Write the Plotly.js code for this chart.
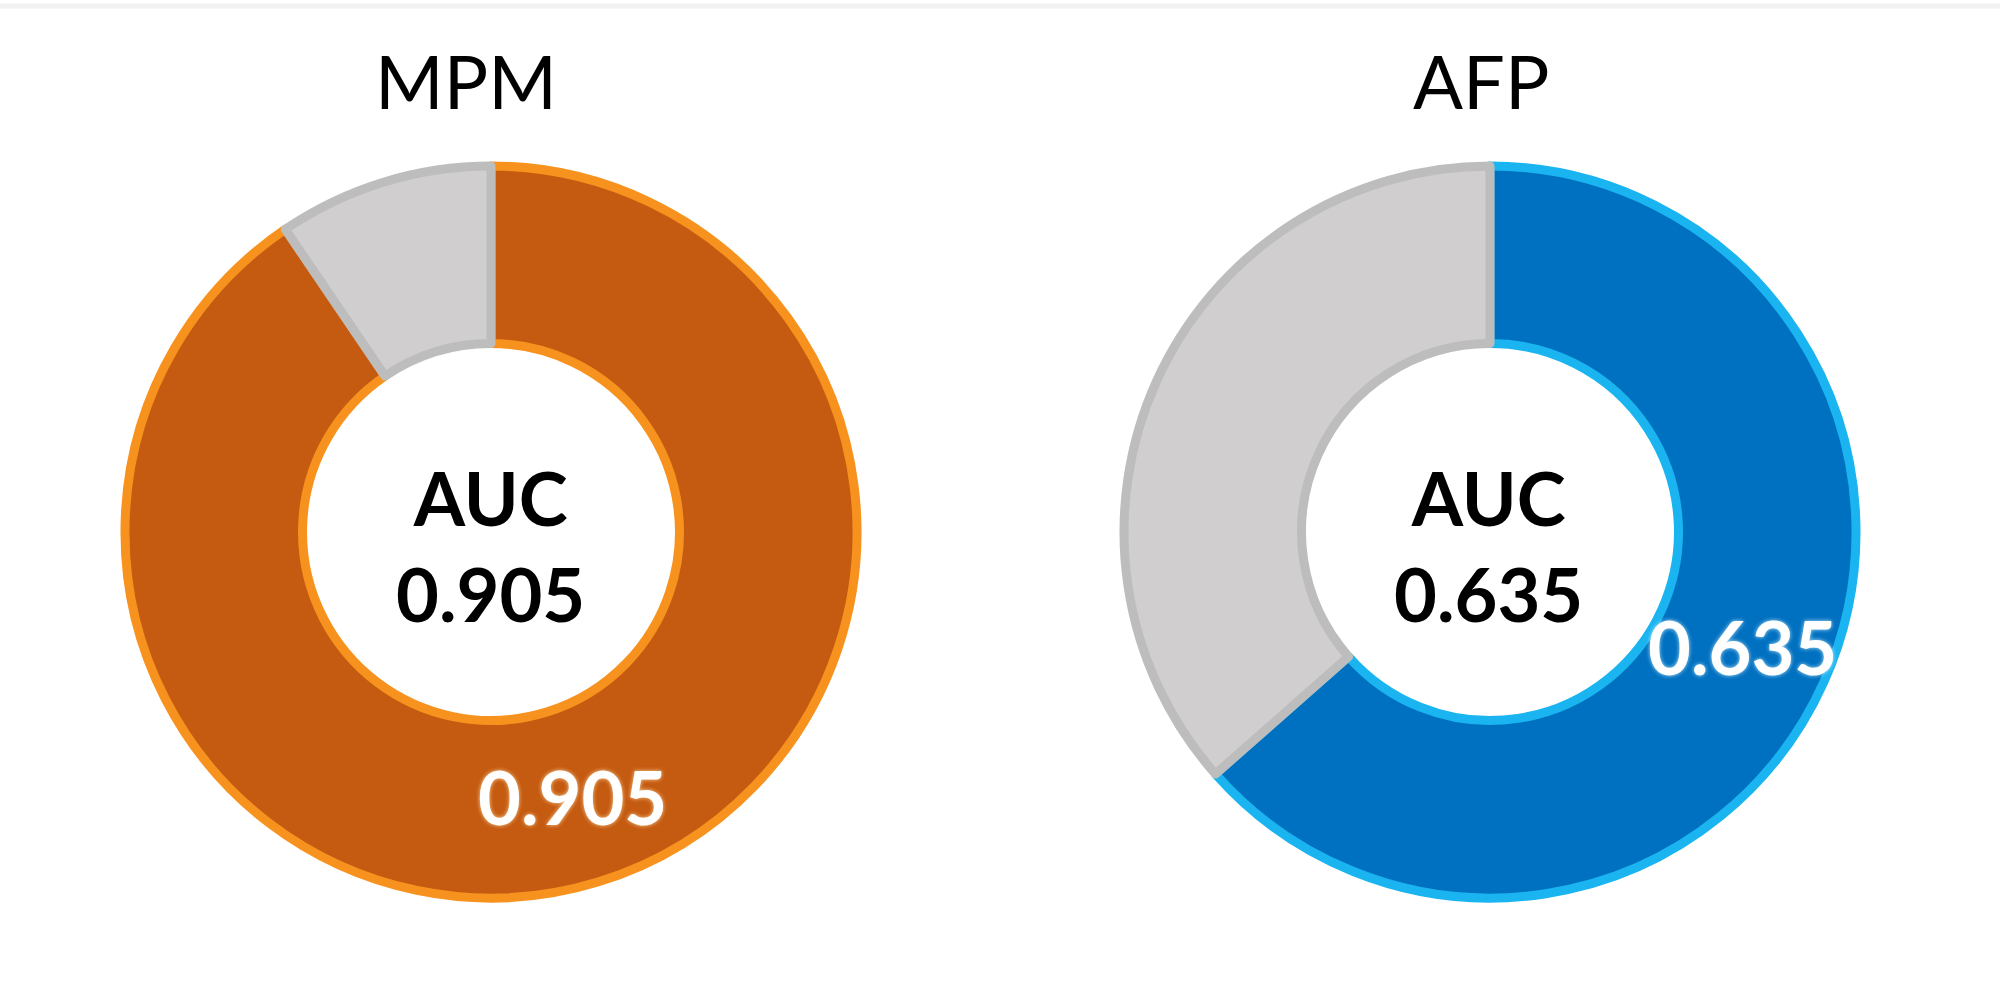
<!DOCTYPE html>
<html>
<head>
<meta charset="utf-8">
<script src="https://cdn.plot.ly/plotly-3.0.1.min.js"></script>
<style>
	html, body { margin: 0; padding: 0; background: #ffffff; }
	#chart { width: 2000px; height: 982px; }
</style>
</head>
<body>
<div id="chart"></div>
<script>
// data
const models = ["MPM", "AFP"];
const aucValues = [0.905, 0.635];
const restValues = [0.095, 0.365];
const sliceNames = ["AUC", "Rest"];

// look
const fillColors = [["#C55A11", "#D0CECE"], ["#0070C0", "#D0CECE"]];
const edgeColors = [["#F7921E", "#BDBDBD"], ["#1AB4F0", "#BDBDBD"]];
const glowColors = ["rgba(255,225,170,0.9)", "rgba(200,240,255,0.9)"];
const domainsX = [[0.0625, 0.4285], [0.562, 0.928]];
const domainY = [0.0855, 0.831];
const titleX = [0.233, 0.7405];
const centerX = [0.245, 0.744];
const W = 2000, H = 982;
const FONT = "Lato, 'Open Sans', sans-serif";

let data = [];
let annotations = [];

for (let i = 0; i < models.length; i++) {
	data.push({
		type: "pie",
		values: [aucValues[i], restValues[i]],
		labels: sliceNames,
		textinfo: "none",
		hole: 0.515,
		sort: false,
		direction: "clockwise",
		rotation: 0,
		showlegend: false,
		hoverinfo: "label+value",
		marker: {
			colors: fillColors[i],
			line: { color: edgeColors[i], width: 9 }
		},
		domain: { x: domainsX[i], y: domainY }
	});

	// model name above each ring
	annotations.push({
		text: models[i],
		xref: "paper", yref: "paper",
		x: titleX[i], y: 0.9185,
		xanchor: "center", yanchor: "middle",
		showarrow: false,
		font: { family: FONT, size: 74, color: "#000000" }
	});

	// AUC value inside the hole
	annotations.push({
		text: "<b>AUC<br>" + aucValues[i].toFixed(3) + "</b>",
		xref: "paper", yref: "paper",
		x: centerX[i], y: 0.445,
		xanchor: "center", yanchor: "middle",
		showarrow: false,
		font: { family: FONT, size: 74, color: "#000000" }
	});

	// slice label at the middle angle of the coloured slice
	// (plotly puts big-slice horizontal labels at the bottom, so place it here)
	const total = aucValues[i] + restValues[i];
	const mid = (aucValues[i] / 2) / total * 2 * Math.PI;
	const cx = (domainsX[i][0] + domainsX[i][1]) / 2;
	const cy = (domainY[0] + domainY[1]) / 2;
	const rPx = (domainsX[i][1] - domainsX[i][0]) * W / 2 * 0.757;
	annotations.push({
		text: "<b>" + aucValues[i].toFixed(3) + "</b>",
		xref: "paper", yref: "paper",
		x: cx + rPx * Math.sin(mid) / W,
		y: cy + rPx * Math.cos(mid) / H,
		xanchor: "center", yanchor: "middle",
		showarrow: false,
		font: { family: FONT, size: 74, color: "#ffffff", shadow: "0px 0px 4px " + glowColors[i] }
	});
}

const layout = {
	width: W,
	height: H,
	margin: { l: 0, r: 0, t: 0, b: 0 },
	paper_bgcolor: "#ffffff",
	plot_bgcolor: "#ffffff",
	annotations: annotations,
	shapes: [{
		type: "line",
		xref: "paper", yref: "paper",
		x0: 0, x1: 1, y0: 0.994, y1: 0.994,
		line: { color: "#F2F2F2", width: 5 }
	}]
};

Plotly.newPlot("chart", data, layout, { displayModeBar: false, staticPlot: true });
</script>
</body>
</html>
